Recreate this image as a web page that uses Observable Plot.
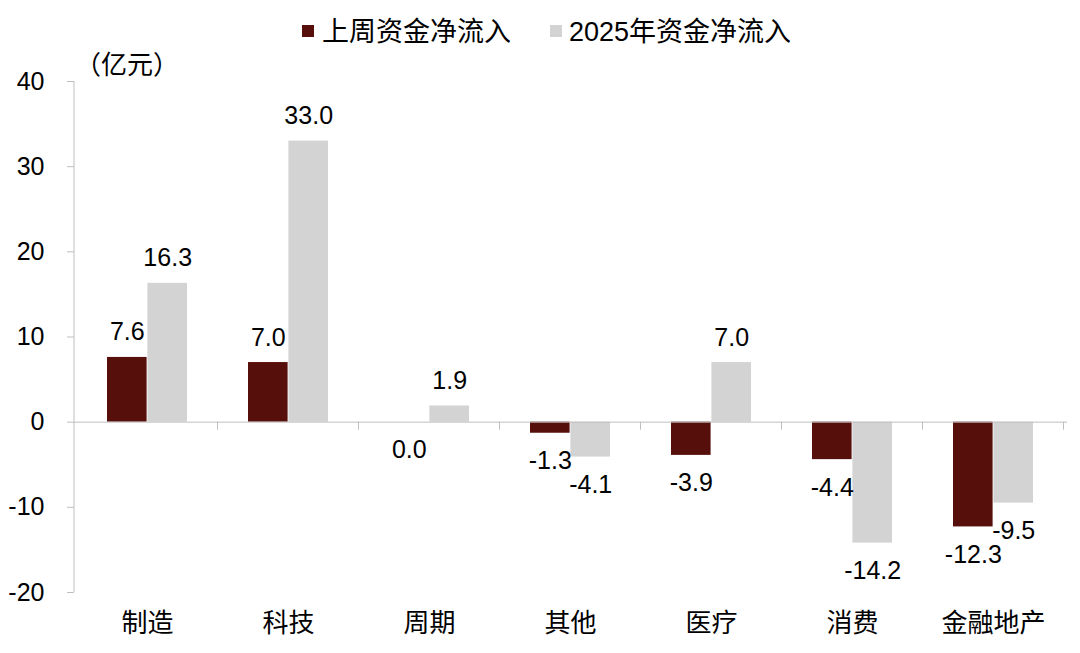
<!DOCTYPE html>
<html><head><meta charset="utf-8">
<script src="https://cdn.jsdelivr.net/npm/d3@7"></script>
<script src="https://cdn.jsdelivr.net/npm/@observablehq/plot@0.6"></script>
<style>
body{margin:0;background:#fff;}
#wrap{position:relative;width:1080px;height:653px;font-family:"Liberation Sans","Noto Sans CJK SC",sans-serif;color:#000;}
.sq{position:absolute;width:12px;height:12px;}
.lt{position:absolute;white-space:nowrap;}
</style></head>
<body><div id="wrap"></div>
<script>
const categories = ["制造","科技","周期","其他","医疗","消费","金融地产"];
const seriesNames = ["上周资金净流入","2025年资金净流入"];
const lastWeek = [7.6, 7.0, 0.0, -1.3, -3.9, -4.4, -12.3];
const ytd2025 = [16.3, 33.0, 1.9, -4.1, 7.0, -14.2, -9.5];
const yTicks = [-20, -10, 0, 10, 20, 30, 40];
const unitLabel = "（亿元）";

const colors = ["#560f0a", "#d3d3d3"];
const axisColor = "#bfbfbf";
const half = 40.4;

const rowsA = categories.map((c, i) => ({cat: c, value: lastWeek[i]}));
const rowsB = categories.map((c, i) => ({cat: c, value: ytd2025[i]}));
const fmt = d => d.value.toFixed(1);

const axisLines = (index, scales, values, dims) => {
  const x = scales.x, y = scales.y;
  const g = d3.create("svg:g").attr("stroke", axisColor).attr("fill", "none");
  const step = x.step(), bw = x.bandwidth();
  const gap = (step - bw) / 2;
  const bounds = categories.map(c => x(c) + bw + gap);
  const y0 = y(0);
  g.selectAll("line.b").data(bounds).join("line")
    .attr("x1", d => d).attr("x2", d => d).attr("y1", y0).attr("y2", y0 + 8);
  g.append("line")
    .attr("x1", dims.marginLeft).attr("x2", dims.marginLeft)
    .attr("y1", dims.marginTop).attr("y2", dims.height - dims.marginBottom);
  return g.node();
};

const textOpts = {fontSize: 25, fill: "#000", textAnchor: "middle", lineAnchor: "middle"};

const plot = Plot.plot({
  width: 1080,
  height: 653,
  marginLeft: 74,
  marginRight: 13,
  marginTop: 81,
  marginBottom: 61,
  style: {fontFamily: '"Liberation Sans","Noto Sans CJK SC",sans-serif', background: "white", color: "#000"},
  x: {domain: categories, paddingInner: 0.43, paddingOuter: 0.215},
  y: {domain: [-20, 40]},
  marks: [
    Plot.barY(rowsA, {x: "cat", y1: 0, y2: "value", fill: colors[0], insetRight: half}),
    Plot.barY(rowsB, {x: "cat", y1: 0, y2: "value", fill: colors[1], insetLeft: half}),
    Plot.ruleY([0], {stroke: axisColor}),
    axisLines,
    Plot.axisY({ticks: yTicks, tickSize: 7, tickPadding: 23, fontSize: 25, stroke: axisColor, fill: "#000", label: null, tickFormat: d => d}),
    Plot.axisX({tickSize: 0, tickPadding: 21, fontSize: 26, fill: "#000", label: null}),
    Plot.text(rowsA.filter(d => d.value > 0), {...textOpts, x: "cat", y: "value", text: fmt, dx: -half / 2, dy: -25}),
    Plot.text(rowsA.filter(d => d.value <= 0), {...textOpts, x: "cat", y: "value", text: fmt, dx: -half / 2, dy: 28}),
    Plot.text(rowsB.filter(d => d.value > 0), {...textOpts, x: "cat", y: "value", text: fmt, dx: half / 2, dy: -25}),
    Plot.text(rowsB.filter(d => d.value <= 0), {...textOpts, x: "cat", y: "value", text: fmt, dx: half / 2, dy: 28})
  ]
});

const wrap = document.getElementById("wrap");
wrap.appendChild(plot);

function addLegend(left, color, label, textLeft) {
  const s = document.createElement("div");
  s.className = "sq"; s.style.left = left + "px"; s.style.top = "25px"; s.style.background = color;
  wrap.appendChild(s);
  const t = document.createElement("div");
  t.className = "lt"; t.style.left = textLeft + "px"; t.style.top = "18px";
  t.style.fontSize = "27px"; t.style.lineHeight = "28px"; t.textContent = label;
  wrap.appendChild(t);
}
addLegend(302, colors[0], seriesNames[0], 322);
addLegend(550, colors[1], seriesNames[1], 569);

const u = document.createElement("div");
u.className = "lt"; u.style.left = "75px"; u.style.top = "51px";
u.style.fontSize = "26px"; u.style.lineHeight = "28px"; u.textContent = unitLabel;
wrap.appendChild(u);
</script>
</body></html>
